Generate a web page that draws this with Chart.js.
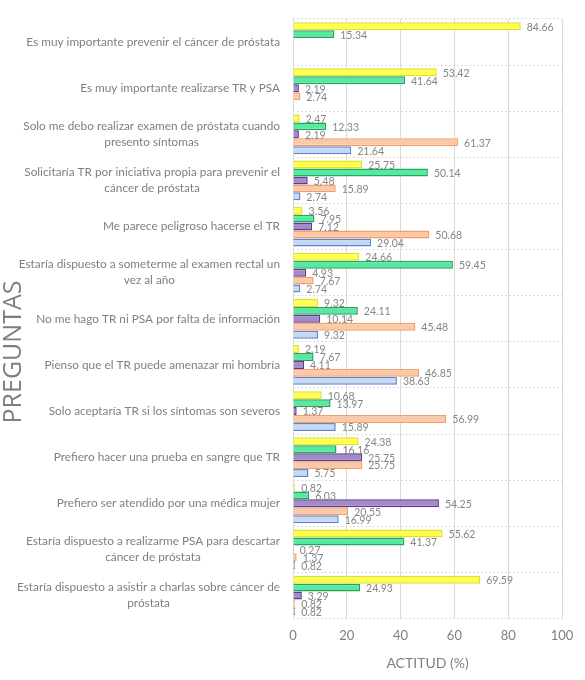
<!DOCTYPE html>
<html>
<head>
    <title>Actitud por pregunta</title>
    <script src="https://cdn.jsdelivr.net/npm/chart.js"></script>
    <style>
        body { margin: 0; background: #fff; }
        .chart-box { width: 585px; height: 680px; position: relative; }
    </style>
</head>
<body>
    <div class="chart-box">
        <canvas id="actitudChart"></canvas>
    </div>

    <script>
    // preguntas (orden de arriba hacia abajo)
    const preguntas = [
        'Es muy importante prevenir el cáncer de próstata',
        'Es muy importante realizarse TR y PSA',
        ['Solo me debo realizar examen de próstata cuando', 'presento síntomas'],
        ['Solicitaría TR por iniciativa propia para prevenir el', 'cáncer de próstata'],
        'Me parece peligroso hacerse el TR',
        ['Estaría dispuesto a someterme al examen rectal un', 'vez al año'],
        'No me hago TR ni PSA por falta de información',
        'Pienso que el TR puede amenazar mi hombría',
        'Solo aceptaría TR si los síntomas son severos',
        'Prefiero hacer una prueba en sangre que TR',
        'Prefiero ser atendido por una médica mujer',
        ['Estaría dispuesto a realizarme PSA para descartar', 'cáncer de próstata'],
        ['Estaría dispuesto a asistir a charlas sobre cáncer de', 'próstata']
    ];

    // porcentajes por serie
    const serieAmarilla = [84.66, 53.42, 2.47, 25.75, 3.56, 24.66, 9.32, 2.19, 10.68, 24.38, 0.82, 55.62, 69.59];
    const serieVerde    = [15.34, 41.64, 12.33, 50.14, 7.95, 59.45, 24.11, 7.67, 13.97, 16.16, 6.03, 41.37, 24.93];
    const serieMorada   = [0, 2.19, 2.19, 5.48, 7.12, 4.93, 10.14, 4.11, 1.37, 25.75, 54.25, 0.27, 3.29];
    const serieNaranja  = [0, 2.74, 61.37, 15.89, 50.68, 7.67, 45.48, 46.85, 56.99, 25.75, 20.55, 1.37, 0.82];
    const serieAzul     = [0, 0, 21.64, 2.74, 29.04, 2.74, 9.32, 38.63, 15.89, 5.75, 16.99, 0.82, 0.82];

    const xTicks = [0, 20, 40, 60, 80, 100];

    const gris = '#7f7f7f';
    const labelFont = '11.8px Lato';

    // etiquetas de valor al final de cada barra
    const valueLabels = {
        id: 'valueLabels',
        afterDatasetsDraw(chart) {
            const ctx = chart.ctx;
            ctx.save();
            ctx.font = '10.5px Lato';
            ctx.fillStyle = '#858585';
            ctx.textAlign = 'left';
            ctx.textBaseline = 'middle';
            chart.data.datasets.forEach((ds, i) => {
                chart.getDatasetMeta(i).data.forEach((bar, j) => {
                    const v = ds.data[j];
                    if (!v) return;
                    ctx.fillText(v.toFixed(2), bar.x + 6, bar.y + 1);
                });
            });
            ctx.restore();
        }
    };

    // etiquetas de preguntas: bloque alineado a la derecha, lineas centradas
    // y titulo vertical PREGUNTAS
    const preguntaLabels = {
        id: 'preguntaLabels',
        afterDraw(chart) {
            const ctx = chart.ctx;
            const y = chart.scales.y;
            const right = chart.chartArea.left - 13;
            ctx.save();
            ctx.font = labelFont;
            ctx.fillStyle = gris;
            ctx.textAlign = 'center';
            ctx.textBaseline = 'middle';
            preguntas.forEach((p, i) => {
                const lines = Array.isArray(p) ? p : [p];
                const w = Math.max(...lines.map(l => ctx.measureText(l).width));
                const cx = right - w / 2;
                const cy = y.getPixelForTick(i);
                const lh = 16;
                lines.forEach((l, k) => {
                    ctx.fillText(l, cx, cy + (k - (lines.length - 1) / 2) * lh);
                });
            });

            ctx.translate(21, 352);
            ctx.rotate(-Math.PI / 2);
            ctx.font = '25px "Open Sans"';
            ctx.textBaseline = 'alphabetic';
            ctx.fillText('PREGUNTAS', 0, 0);
            ctx.restore();
        }
    };

    function serie(data, fill, border) {
        return {
            data: data,
            backgroundColor: fill,
            borderColor: border,
            borderWidth: 1.5,
            categoryPercentage: 0.86,
            barPercentage: 1
        };
    }

    const ctx = document.getElementById('actitudChart').getContext('2d');
    new Chart(ctx, {
        type: 'bar',
        data: {
            labels: preguntas,
            datasets: [
                serie(serieAmarilla, '#ffff4d', '#e0e030'),
                serie(serieVerde, '#52eca0', '#2f9e60'),
                serie(serieMorada, '#a38bc9', '#5f3b90'),
                serie(serieNaranja, '#fbc9a7', '#f0a06c'),
                serie(serieAzul, '#c6d9f4', '#5f86cc')
            ]
        },
        options: {
            indexAxis: 'y',
            responsive: true,
            maintainAspectRatio: false,
            animation: false,
            layout: { padding: { top: 19, right: 23, bottom: 6, left: 0 } },
            plugins: {
                legend: { display: false },
                tooltip: { enabled: false }
            },
            scales: {
                x: {
                    min: 0,
                    max: 100,
                    afterBuildTicks: s => { s.ticks = xTicks.map(v => ({ value: v })); },
                    grid: { color: '#d9d9d9', drawTicks: false },
                    border: { display: false },
                    ticks: { color: gris, font: { family: 'Lato', size: 13 }, padding: 9 },
                    title: {
                        display: true,
                        text: 'ACTITUD (%)',
                        color: gris,
                        font: { family: 'Lato', size: 14 },
                        padding: { top: 3, bottom: 2 }
                    }
                },
                y: {
                    grid: { color: '#dcdcdc', drawTicks: false },
                    border: { display: false, dash: [2, 2] },
                    ticks: { display: false },
                    afterFit: s => { s.width = 293; }
                }
            }
        },
        plugins: [valueLabels, preguntaLabels]
    });
    </script>
</body>
</html>
